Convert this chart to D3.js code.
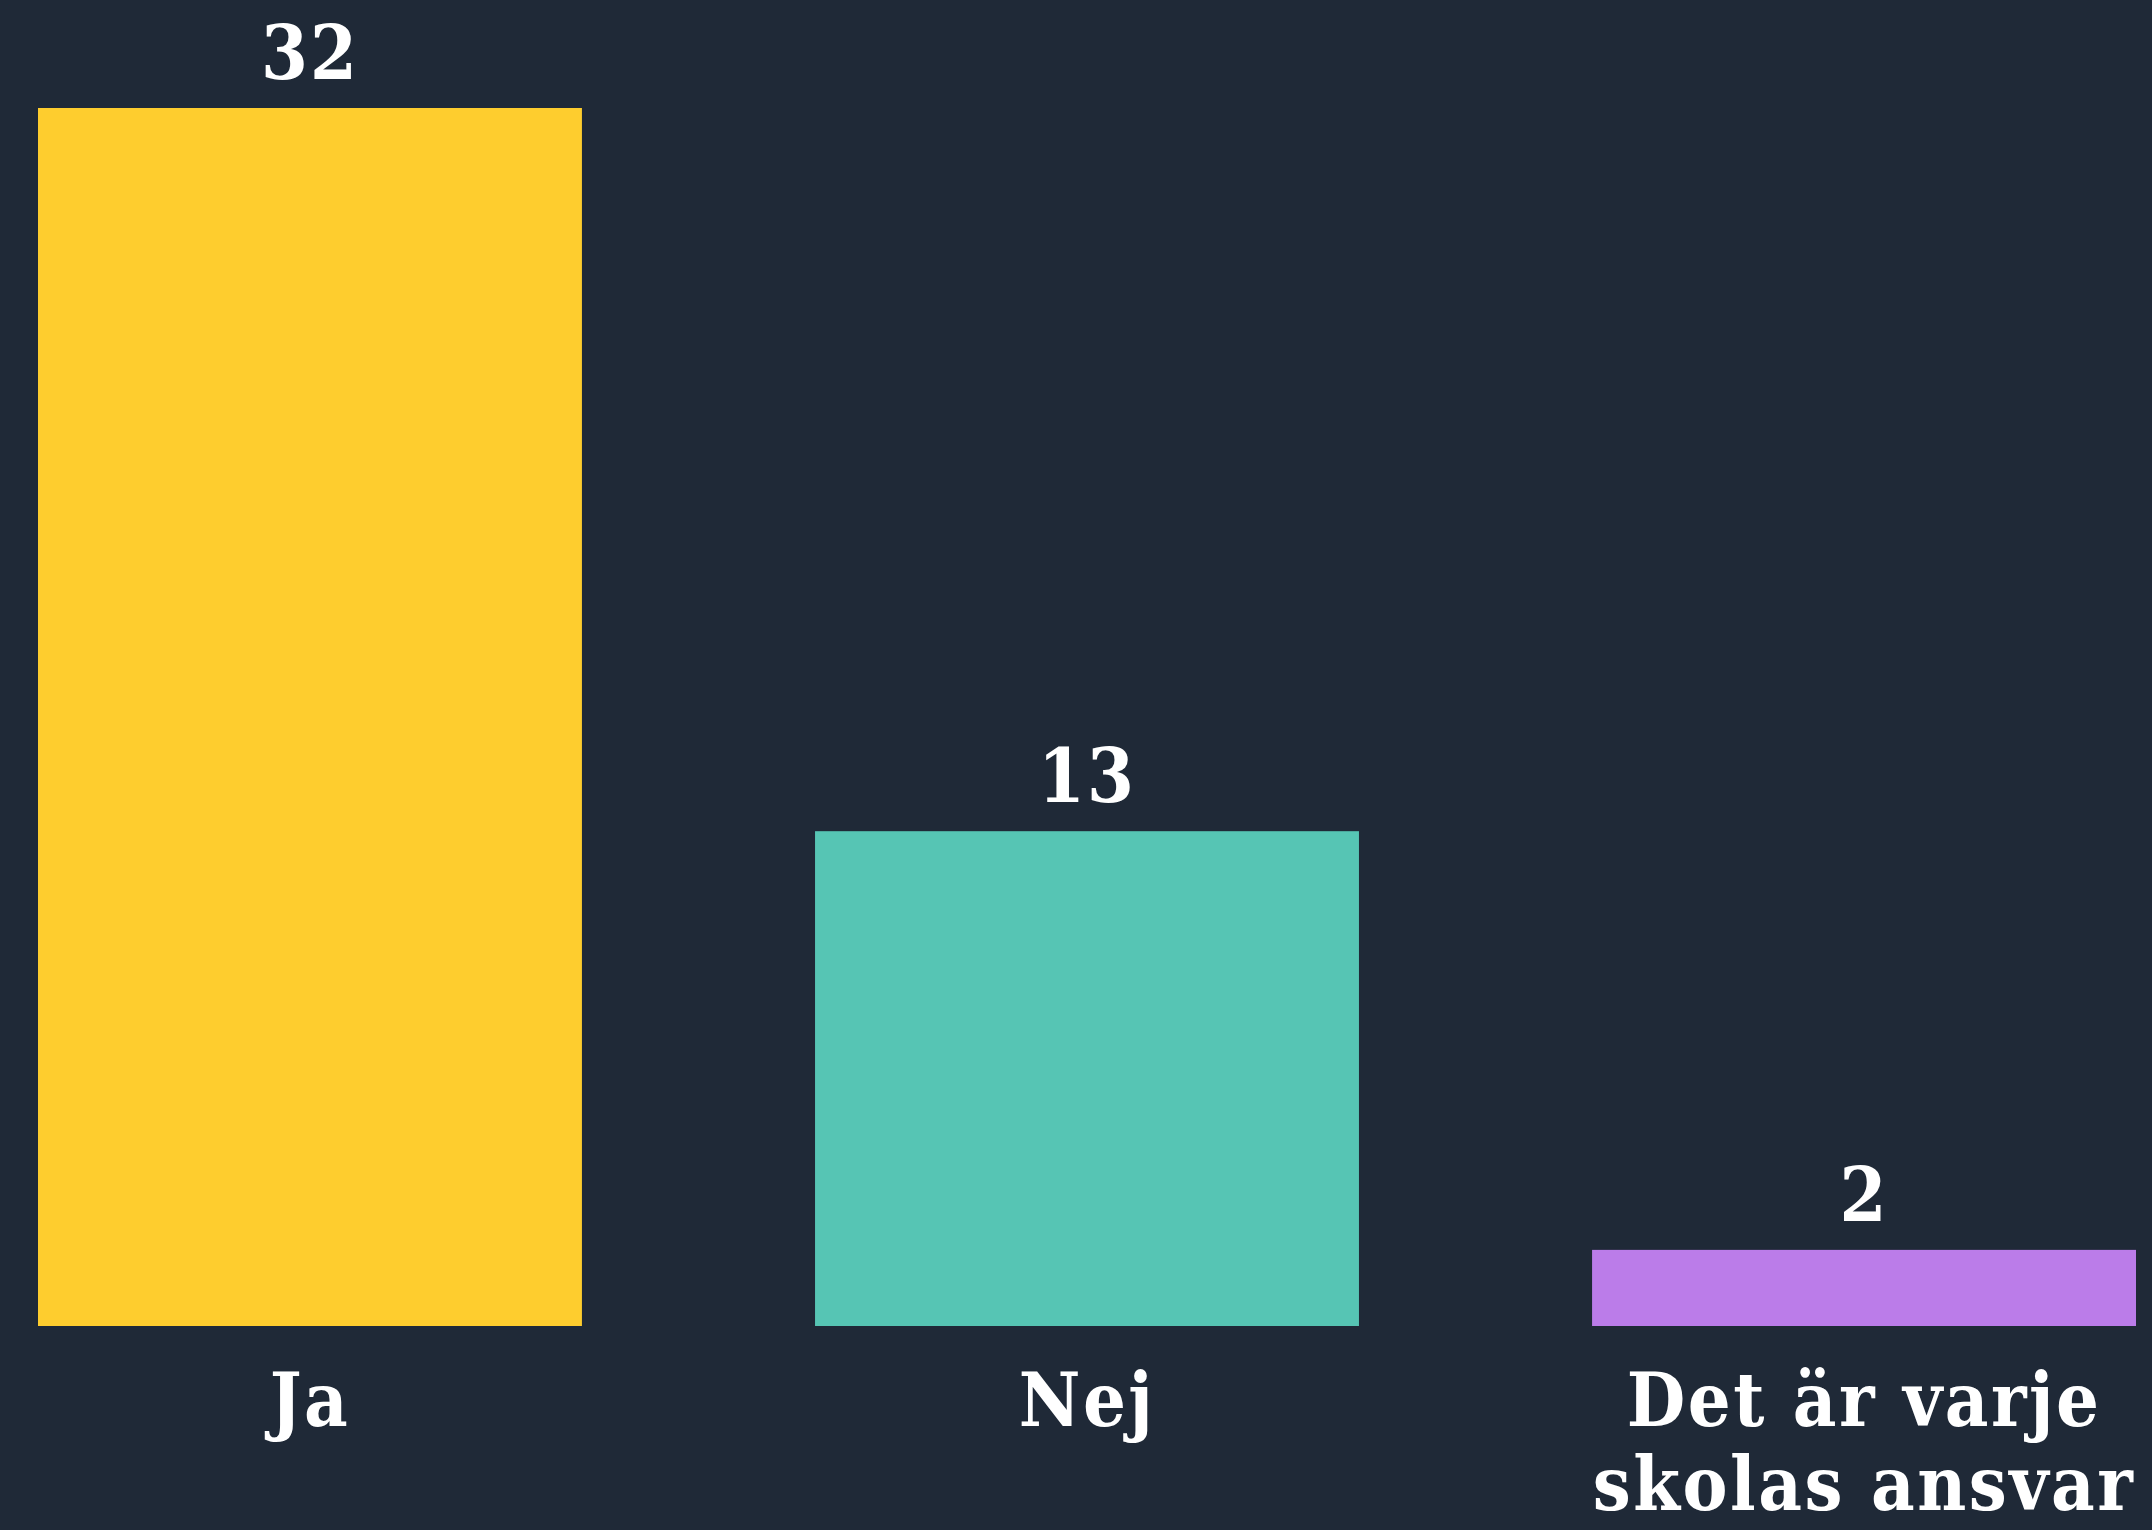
<html>
<head>
  <meta charset="utf-8">
  <title>Svar</title>
  <script src="https://cdn.jsdelivr.net/npm/d3@7"></script>
  <style>
    html, body { margin: 0; padding: 0; background: #1f2937; }
    svg text { font-family: "DejaVu Serif Condensed", "DejaVu Serif", serif; font-weight: bold; fill: #ffffff; }
  </style>
</head>
<body>
  <div id="chart"></div>
  <script>
    const categories = ["Ja", "Nej", "Det är varje skolas ansvar"];
    const labelLines = [["Ja"], ["Nej"], ["Det är varje", "skolas ansvar"]];
    const values = [32, 13, 2];
    const colors = ["#fecd2e", "#56c5b4", "#bb7ce9"];

    const width = 2152, height = 1530;
    let svg = d3.select('#chart').append('svg').attr('width', width).attr('height', height);

    let x = d3.scaleBand().domain(categories).range([38, 2136]).paddingInner(0.3).paddingOuter(0);
    let y = d3.scaleLinear().domain([0, 32]).range([1326, 108]);

    // bars
    svg.selectAll('rect.bar')
      .data(values)
      .enter()
      .append('rect')
      .attr('class', 'bar')
      .attr('x', function (d, i) { return x(categories[i]); })
      .attr('y', function (d) { return y(d); })
      .attr('width', x.bandwidth())
      .attr('height', function (d) { return y(0) - y(d); })
      .attr('fill', function (d, i) { return colors[i]; });

    // value labels
    svg.selectAll('text.val')
      .data(values)
      .enter()
      .append('text')
      .attr('class', 'val')
      .attr('x', function (d, i) { return x(categories[i]) + x.bandwidth() / 2; })
      .attr('y', function (d) { return y(d) - 29; })
      .attr('text-anchor', 'middle')
      .style('font-size', '75px')
      .style('letter-spacing', '2px')
      .text(function (d) { return d; });

    // category axis, labels wrapped to lines
    let axis = svg.append('g')
      .attr('transform', 'translate(0,' + y(0) + ')')
      .call(d3.axisBottom(x).tickSize(0).tickPadding(0));
    axis.select('.domain').remove();
    axis.selectAll('.tick text').each(function (d, i) {
      let t = d3.select(this).text(null)
        .attr('y', 0).attr('dy', null)
        .style('font-size', '75px')
        .style('letter-spacing', '2.5px');
      labelLines[i].forEach(function (line, j) {
        t.append('tspan').attr('x', 0).attr('y', 100 + j * 84).text(line);
      });
    });
  </script>
</body>
</html>
